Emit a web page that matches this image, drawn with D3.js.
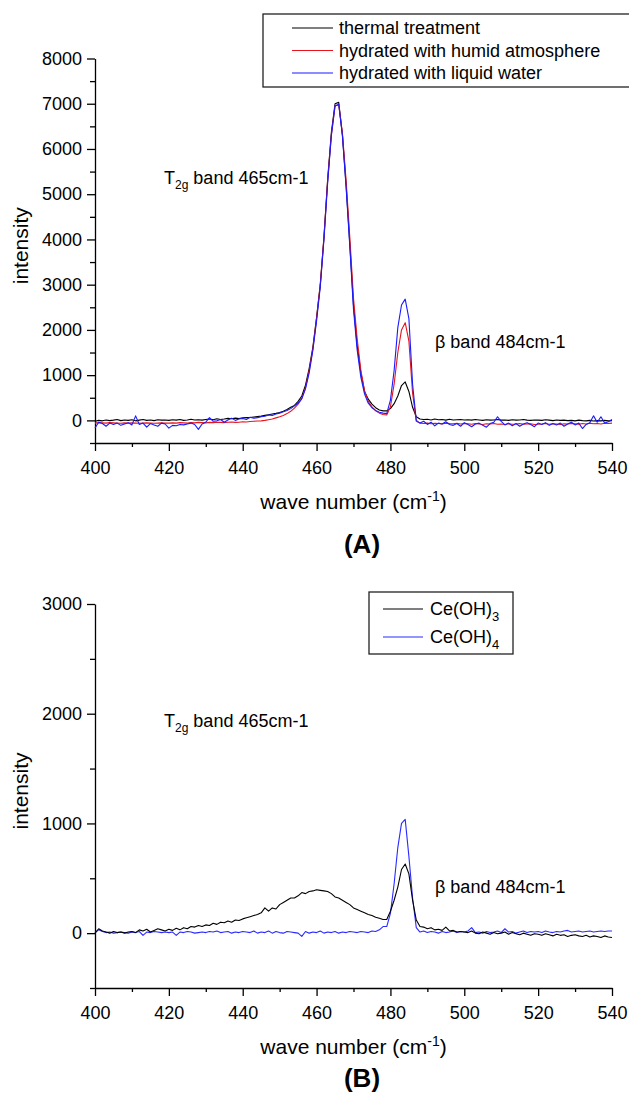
<!DOCTYPE html>
<html>
<head>
<meta charset="utf-8">
<script src="https://cdn.jsdelivr.net/npm/d3@7"></script>
<style>
  body { margin: 0; background: #fff; }
  svg { display: block; font-family: "Liberation Sans", Arial, sans-serif; }
  .axis path, .axis line { stroke: #000; stroke-width: 1.3px; }
  .axis text { font-size: 18px; fill: #000; font-family: "Liberation Sans", Arial, sans-serif; }
</style>
</head>
<body>
<div id="chart"></div>
<script>
// wave numbers 400..540 step 1
var waveNumbers = d3.range(400, 541, 1);

// panel A series
var thermal = [
  -20, 0, -10, 10, -5, 5, 20, -5, 10, 0,
  15, -10, 5, 20, 0, 10, -5, 15, 5, 10,
  0, 15, 5, 20, 0, 10, 25, 10, 15, 5,
  20, 30, 15, 35, 20, 30, 45, 35, 50, 40,
  55, 60, 65, 75, 85, 95, 110, 125, 140, 155,
  175, 200, 240, 290, 330, 420, 540, 780, 1150, 1620,
  2280, 3000, 4050, 5330, 6360, 7000, 7030, 6300, 5200, 3900,
  2550, 1650, 1050, 640, 470, 360, 280, 230, 210, 210,
  260, 370, 540, 770, 850, 640, 290, 80, 30, 20,
  25, 10, 30, 15, 20, 5, 25, 10, 15, 20,
  10, 15, 5, 20, 10, 0, 15, 5, 10, 20,
  5, 10, 0, 15, 5, 10, 20, 5, 0, 10,
  5, 0, 15, 5, -5, 10, 0, 5, -5, 0,
  -10, 5, -5, -10, 0, -15, -5, -10, 0, -10,
  -5
];
var humid = [
  -60, -50, -55, -60, -50, -55, -60, -65, -55, -60,
  -55, -60, -65, -60, -55, -60, -65, -60, -55, -60,
  -60, -55, -60, -50, -55, -60, -50, -55, -45, -50,
  -55, -45, -50, -40, -45, -50, -40, -35, -45, -40,
  -30, -35, -25, -20, -15, -10, 0, 15, 30, 55,
  80, 110, 150, 200, 270, 360, 480, 720, 1100, 1580,
  2250, 3000, 4050, 5300, 6300, 6950, 6980, 6350, 5300, 4050,
  2700, 1800, 1100, 650, 420, 300, 210, 160, 130, 120,
  300, 800, 1500, 2000, 2160, 1750, 600, -20, -60, -70,
  -60, -75, -65, -70, -80, -60, -70, -75, -65, -80,
  -70, -75, -85, -70, -80, -90, -75, -80, -70, -85,
  -80, -90, -75, -85, -80, -70, -85, -80, -75, -90,
  -85, -80, -70, -85, -75, -80, -90, -75, -80, -70,
  -75, -85, -70, -80, -65, -75, -70, -80, -65, -70,
  -60
];
var liquid = [
  -170, -40, -70, -130, -60, -90, -60, -110, -80, -50,
  -100, 100, -90, -60, -150, -70, -100, -130, -60, -80,
  -170, -110, -120, -90, -100, -80, -60, -90, -200, -80,
  -40, 60, -20, -10, 20, -40, 10, 50, 0, 30,
  40, 20, 70, 50, 60, 80, 90, 120, 110, 140,
  160, 190, 220, 260, 320, 380, 480, 700, 1050, 1550,
  2200, 2950, 4000, 5250, 6300, 6950, 6990, 6300, 5150, 3850,
  2450, 1550, 950, 580, 380, 280, 220, 180, 160, 150,
  450, 1100, 2050, 2550, 2680, 2250, 800, 0, -60, -20,
  -90, -40, -120, -60, -80, -30, -90, -110, -70, -130,
  -50, -90, -140, -80, -60, -110, -150, -70, -40, 80,
  -20, -100, -60, -120, -70, -130, -80, -50, -90, -140,
  -60, -90, -50, -110, -70, -100, -60, -130, -80, -40,
  -100, -60, -180, -90, -50, 100, -40, 80, -60, -30,
  20
];

// panel B series
var ceOH3 = [
  0, 40, 20, 10, 0, 15, 5, 10, 0, 10,
  15, 5, 30, 20, 35, 10, 25, 40, 30, 20,
  35, 25, 45, 30, 50, 40, 60, 55, 70, 60,
  75, 70, 90, 80, 100, 95, 110, 100, 120, 115,
  130, 140, 150, 160, 170, 185, 230, 200, 230, 220,
  260, 280, 300, 320, 320, 340, 370, 360, 380, 385,
  395, 390, 385, 380, 360, 330, 320, 300, 280, 260,
  230, 215, 200, 185, 170, 160, 145, 135, 125, 125,
  200, 300, 420, 580, 630, 540, 300, 120, 60, 55,
  40, 50, 30, 35, 25, 55, 20, 25, 10, 15,
  10, 5, 20, 0, -5, 10, 0, -10, 5, -5,
  0, 10, -10, 5, -5, -15, 0, -10, -20, -5,
  -10, -20, -5, -15, -25, -10, -20, -15, -30, -20,
  -15, -25, -30, -20, -35, -25, -30, -40, -25, -35,
  -40
];
var ceOH4 = [
  5, 30, 15, 5, 10, 0, 5, 10, 5, 0,
  10, 5, 15, -20, 10, 5, 15, 10, 5, 10,
  5, 10, -20, 10, 5, 15, 10, 0, 5, 10,
  5, 15, 10, 20, 5, 10, 15, 0, 10, 5,
  15, 10, 5, 20, 0, 10, 5, 20, 0, 15,
  5, 0, 15, 10, 5, 0, -30, 15, 0, 10,
  5, 20, 0, 10, 5, 15, 0, 10, 5, 15,
  10, 5, 15, 10, 5, 20, 15, 30, 60, 60,
  180, 450, 780, 1000, 1037, 700, 320, 50, 10, 20,
  5, 15, 10, 0, 15, 5, 10, 20, 5, 15,
  10, 20, 50, 5, 10, 0, 15, 5, 10, 20,
  5, 40, 10, 15, 0, 10, 20, 5, 15, 10,
  15, 5, 20, 10, 5, 15, 10, 20, 25, 10,
  15, 20, 10, 15, 20, 10, 15, 20, 15, 20,
  20
];

var xMajor = d3.range(400, 541, 20);
var xMinor = d3.range(410, 540, 20);
var yMajorA = d3.range(0, 8001, 1000);
var yMinorA = d3.range(-500, 8000, 1000);
var yMajorB = d3.range(0, 3001, 1000);
var yMinorB = d3.range(-500, 3000, 1000);

var seriesA = [
  { name: "thermal treatment", values: thermal, color: "#000000" },
  { name: "hydrated with humid atmosphere", values: humid, color: "#e8141e" },
  { name: "hydrated with liquid water", values: liquid, color: "#1a1aff" }
];
var seriesB = [
  { name: "Ce(OH)", sub: "3", values: ceOH3, color: "#000000" },
  { name: "Ce(OH)", sub: "4", values: ceOH4, color: "#2a2aff" }
];

//////////////////////////////////////////////////////////////////////////////

var svg = d3.select("#chart").append("svg")
    .attr("width", 629)
    .attr("height", 1093);

svg.append("rect").attr("width", 629).attr("height", 1093).attr("fill", "#fff");

drawPanel(svg, {
  top: 58.5, bottom: 443,
  yDomain: [-500, 8000], yMajor: yMajorA, yMinor: yMinorA,
  series: seriesA, drawOrder: [0, 1, 2],
  t2gY: 184, betaY: 348,
  label: "(A)", labelY: 553,
  legend: { x: 263, y: 14, w: 380, h: 73, rowH: 22.5, lineX0: 292, lineX1: 333, textX: 339 }
});

drawPanel(svg, {
  top: 604, bottom: 988,
  yDomain: [-500, 3000], yMajor: yMajorB, yMinor: yMinorB,
  series: seriesB, drawOrder: [1, 0],
  t2gY: 727, betaY: 893,
  label: "(B)", labelY: 1087,
  legend: { x: 369, y: 592, w: 144, h: 62, rowH: 28, lineX0: 383, lineX1: 423, textX: 430 }
});

//////////////////////////////////////////////////////////////////////////////

function drawPanel(svg, p) {

  var left = 95, right = 612;

  var x = d3.scaleLinear().domain([400, 540]).range([left, right]);
  var y = d3.scaleLinear().domain(p.yDomain).range([p.bottom, p.top]);

  // axes: minor ticks first, then labelled ticks
  svg.append("g")
      .attr("class", "axis")
      .attr("transform", "translate(0," + p.bottom + ")")
      .call(d3.axisBottom(x).tickValues(xMinor).tickSize(4).tickFormat(""))
      .select(".domain").remove();

  svg.append("g")
      .attr("class", "axis")
      .attr("transform", "translate(0," + p.bottom + ")")
      .call(d3.axisBottom(x).tickValues(xMajor).tickSize(8).tickPadding(10).tickSizeOuter(0).tickFormat(d3.format("d")));

  svg.append("g")
      .attr("class", "axis")
      .attr("transform", "translate(" + left + ",0)")
      .call(d3.axisLeft(y).tickValues(p.yMinor).tickSize(5).tickFormat(""))
      .select(".domain").remove();

  svg.append("g")
      .attr("class", "axis")
      .attr("transform", "translate(" + left + ",0)")
      .call(d3.axisLeft(y).tickValues(p.yMajor).tickSize(8).tickPadding(5).tickSizeOuter(0).tickFormat(d3.format("d")));

  // curves
  var line = d3.line()
    .x(function(d, i){ return x(waveNumbers[i]); })
    .y(function(d){ return y(d); });

  p.drawOrder.forEach(function(k) {
    var s = p.series[k];
    svg.append("path")
        .datum(s.values)
        .attr("fill", "none")
        .attr("stroke", s.color)
        .attr("stroke-width", 1.1)
        .attr("stroke-linejoin", "round")
        .attr("d", line);
  });

  // axis titles
  svg.append("text")
      .attr("transform", "rotate(-90)")
      .attr("x", -(p.top + p.bottom) / 2 + 5)
      .attr("y", 28)
      .attr("text-anchor", "middle")
      .style("font-size", "21px")
      .text("intensity");

  var xt = svg.append("text")
      .attr("x", (left + right) / 2)
      .attr("y", p.bottom + 66)
      .attr("text-anchor", "middle")
      .style("font-size", "21px");
  xt.append("tspan").text("wave number (cm");
  xt.append("tspan").attr("dy", -8).style("font-size", "14px").text("-1");
  xt.append("tspan").attr("dy", 8).text(")");

  svg.append("text")
      .attr("x", 362)
      .attr("y", p.labelY)
      .attr("text-anchor", "middle")
      .style("font-size", "26px")
      .style("font-weight", "bold")
      .text(p.label);

  // band annotations
  var t2g = svg.append("text")
      .attr("x", 164)
      .attr("y", p.t2gY)
      .style("font-size", "18px");
  t2g.append("tspan").text("T");
  t2g.append("tspan").attr("dy", 5).style("font-size", "12px").text("2g");
  t2g.append("tspan").attr("dy", -5).text(" band 465cm-1");

  svg.append("text")
      .attr("x", 435)
      .attr("y", p.betaY)
      .style("font-size", "18px")
      .text("\u03b2 band 484cm-1");

  // legend
  var lg = p.legend;
  svg.append("rect")
      .attr("x", lg.x)
      .attr("y", lg.y)
      .attr("width", lg.w)
      .attr("height", lg.h)
      .attr("fill", "#fff")
      .attr("stroke", "#222")
      .attr("stroke-width", 1.3);

  p.series.forEach(function(s, i) {
    var ly = lg.y + lg.h / 2 + (i - (p.series.length - 1) / 2) * lg.rowH;
    svg.append("line")
        .attr("x1", lg.lineX0).attr("x2", lg.lineX1)
        .attr("y1", ly).attr("y2", ly)
        .attr("stroke", s.color)
        .attr("stroke-width", 1.1);
    var t = svg.append("text")
        .attr("x", lg.textX)
        .attr("y", ly + 6)
        .style("font-size", "18px");
    t.append("tspan").text(s.name);
    if (s.sub) {
      t.append("tspan").attr("dy", 6).style("font-size", "13px").text(s.sub);
    }
  });
}
</script>
</body>
</html>
